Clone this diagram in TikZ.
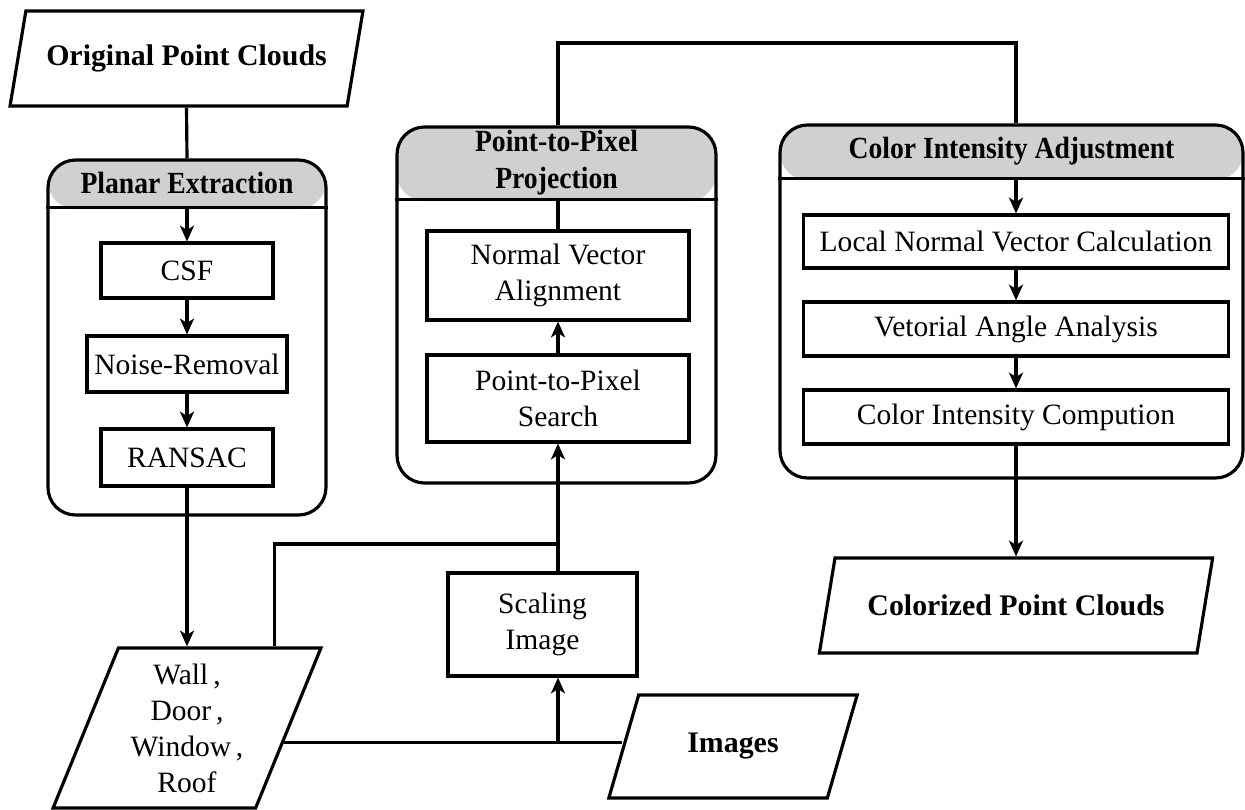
\documentclass[tikz,border=0pt]{standalone}
\usepackage{fontspec}
\setmainfont{Liberation Serif}
\newfontfamily\headfont[FakeStretch=0.9]{Liberation Serif}
\usetikzlibrary{shapes.geometric,arrows.meta,calc}
\definecolor{headgray}{RGB}{208,208,208}
\def\px{0.02cm}
\tikzset{
  stepbox/.style={draw, line width=1.8pt, rectangle, align=center, inner sep=2pt,
    font=\fontsize{16.8}{20.5}\selectfont},
  container/.style={draw, line width=1.8pt, rounded corners=0.55cm, inner sep=0pt},
  headtext/.style={align=center, inner sep=0pt, font=\headfont\bfseries\fontsize{17.5}{21}\selectfont},
  datashape/.style={draw, line width=1.8pt, trapezium, trapezium stretches=true,
    align=center, inner sep=1pt},
  boldtext/.style={font=\bfseries\fontsize{17}{20.5}\selectfont},
  plaintext/.style={font=\fontsize{16.8}{20.5}\selectfont},
  link/.style={line width=1.8pt},
  arr/.style={link, -{Stealth[length=9pt,width=8pt,inset=2.5pt]}},
  header/.style={path picture={\fill[headgray] (path picture bounding box.north west)
      rectangle ([yshift=-#1*\px]path picture bounding box.north east);}}
}
\begin{document}
\begin{tikzpicture}[x=0.02cm,y=-0.02cm]
\useasboundingbox (0,0) rectangle (1245,809);

% ---------- data shapes ----------
\node[datashape, boldtext, trapezium left angle=65.6, trapezium right angle=114.4,
  minimum width=353*\px, minimum height=95*\px] (orig) at (186.5,58.5) {Original Point Clouds};
\node[datashape, plaintext, trapezium left angle=67.3, trapezium right angle=112.7,
  minimum width=268*\px, minimum height=160*\px] (wall) at (187,728)
  {Wall\,,\\Door\,,\\Window\,,\\Roof};
\node[datashape, boldtext, trapezium left angle=63.2, trapezium right angle=116.8,
  minimum width=250*\px, minimum height=103*\px] (imgs) at (733,746.5) {Images};
\node[datashape, boldtext, trapezium left angle=62.2, trapezium right angle=117.8,
  minimum width=394*\px, minimum height=95*\px] (colz) at (1016,605.5) {Colorized Point Clouds};

% ---------- Planar Extraction ----------
\node[container, header=49, minimum width=278*\px, minimum height=355*\px] (pe) at (187,337.5) {};
\draw[link] ([yshift=-49*\px]pe.north west) -- ([yshift=-49*\px]pe.north east);
\node[headtext] (peT) at ([yshift=-24.5*\px]pe.north) {Planar Extraction};
\node[stepbox, minimum width=172*\px, minimum height=55*\px] (csf) at (187,270.5) {CSF};
\node[stepbox, minimum width=200*\px, minimum height=56*\px] (noise) at (187,364) {Noise-Removal};
\node[stepbox, minimum width=172*\px, minimum height=57*\px] (ransac) at (187,457.5) {RANSAC};

% ---------- Point-to-Pixel Projection ----------
\node[container, header=74, minimum width=319*\px, minimum height=356*\px] (pp) at (556.5,305) {};
\draw[link] ([yshift=-74*\px]pp.north west) -- ([yshift=-74*\px]pp.north east);
\node[headtext] (ppT) at ([yshift=-37*\px]pp.north) {Point-to-Pixel\\Projection};
\node[stepbox, minimum width=262*\px, minimum height=89*\px] (nva) at (558,275.5) {Normal Vector\\Alignment};
\node[stepbox, minimum width=262*\px, minimum height=87*\px] (pps) at (558,398.5) {Point-to-Pixel\\Search};

% ---------- Color Intensity Adjustment ----------
\node[container, header=55, minimum width=463*\px, minimum height=353*\px] (ci) at (1011.5,301.5) {};
\draw[link] ([yshift=-55*\px]ci.north west) -- ([yshift=-55*\px]ci.north east);
\node[headtext] (ciT) at ([yshift=-27.5*\px]ci.north) {Color Intensity Adjustment};
\node[stepbox, minimum width=425*\px, minimum height=53*\px] (lnvc) at (1016,241.5) {Local Normal Vector Calculation};
\node[stepbox, minimum width=425*\px, minimum height=54*\px] (vaa) at (1016,329) {Vetorial Angle Analysis};
\node[stepbox, minimum width=425*\px, minimum height=54*\px] (cic) at (1016,417) {Color Intensity Compution};

% ---------- Scaling ----------
\node[stepbox, minimum width=189*\px, minimum height=103*\px] (scal) at (542.5,624.5) {Scaling\\Image};

% ---------- connectors ----------
\draw[link] (orig.center |- orig.south) -- (pe.north);
\draw[arr] ([yshift=-49*\px]pe.north) -- (csf.north);
\draw[arr] (csf.south) -- (noise.north);
\draw[arr] (noise.south) -- (ransac.north);
\draw[arr] (ransac.south) -- (ransac.south |- wall.north);

\draw[link] (nva.north |- 0,201) -- (nva.north);
\draw[arr] (pps.north) -- (nva.south);

\draw[link] (nva.north |- pp.north) -- (nva.north |- 0,43) -| (lnvc.north |- ci.north);
\draw[arr] (lnvc.north |- 0,180) -- (lnvc.north);
\draw[arr] (lnvc.south) -- (vaa.north);
\draw[arr] (vaa.south) -- (cic.north);
\draw[arr] (cic.south) -- (cic.south |- colz.north);

\coordinate (wtap) at ([xshift=-49*\px]wall.top right corner);
\coordinate (jn) at (pps.south |- 0,544);
\draw[arr] (wtap) |- (jn) -- (pps.south);
\draw[link] (scal.north -| jn) -- (jn);
\coordinate (wr) at ($(wall.bottom right corner)!0.4125!(wall.top right corner)$);
\draw[link] (wr) -- (wr -| imgs.left side);
\draw[arr] (jn |- wr) -- (scal.south -| jn);
\end{tikzpicture}
\end{document}
